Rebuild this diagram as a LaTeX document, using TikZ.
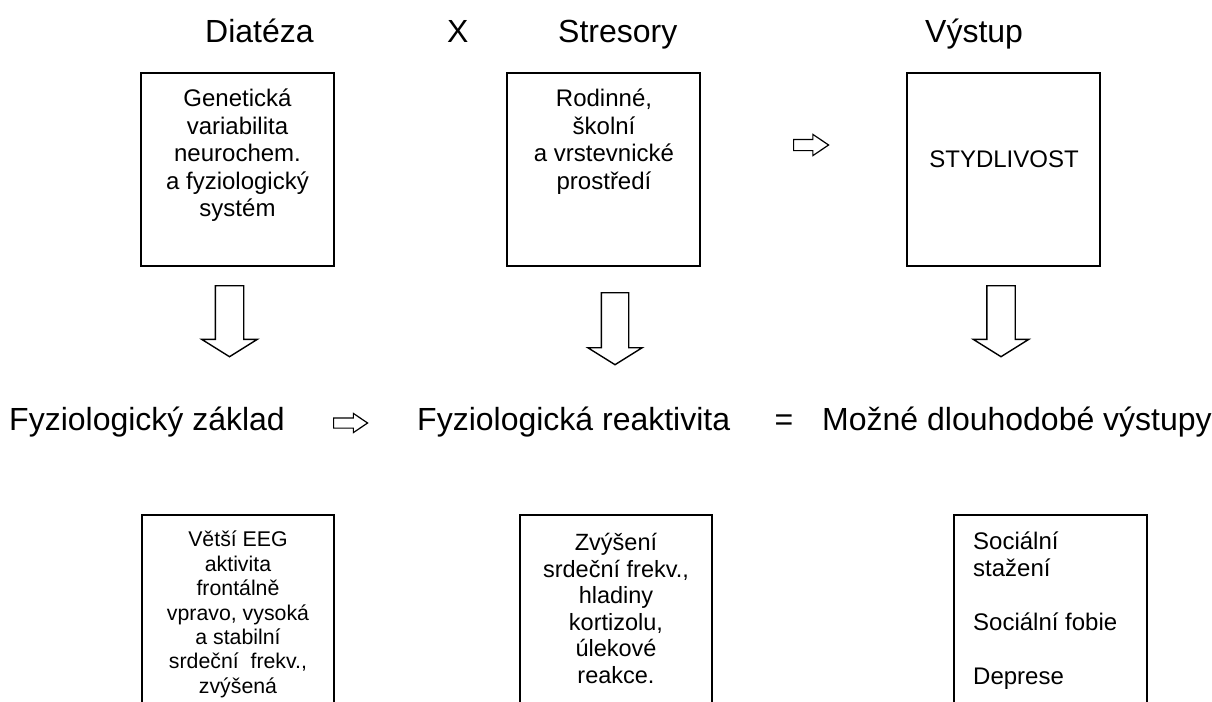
\documentclass[tikz,border=0pt]{standalone}
\usepackage{fontspec}
\setmainfont{Liberation Sans}
\usetikzlibrary{shapes.arrows}

\begin{document}
\begin{tikzpicture}[x=1pt,y=-1pt,
  bigtext/.style={font=\fontsize{32}{36}\selectfont,inner sep=0pt},
  stbox/.style={draw,line width=1.3pt,minimum width=193pt,minimum height=193pt,inner sep=0pt},
  boxtext/.style={font=\fontsize{24}{27.5}\selectfont,align=center,inner sep=0pt,anchor=north},
  downarr/.style={draw,line width=1.4pt,single arrow,rotate=-90,anchor=tail,inner xsep=0pt,inner ysep=13.5pt,
    minimum height=71pt,single arrow head extend=13.5pt,single arrow tip angle=116},
  rightarr/.style={draw,line width=1.2pt,single arrow,anchor=tail,inner xsep=0pt,inner ysep=5pt,
    minimum height=35pt,single arrow head extend=5pt,single arrow tip angle=68}]

  \useasboundingbox (0,0) rectangle (1212,701);
  \clip (0,0) rectangle (1212,701);

  % headings
  \node[bigtext,anchor=base west] (Di) at (205,43) {Diatéza};
  \node[bigtext,anchor=base west] (X) at (447,43) {X};
  \node[bigtext,anchor=base west] (St) at (558,43) {Stresory};
  \node[bigtext,anchor=base west] (Vy) at (925,43) {Výstup};

  % top boxes
  \node[stbox] (GeVa) at (237.5,169.5) {};
  \node[boxtext] (GeVaT) at (237.5,89) {Genetická\\variabilita\\neurochem.\\a fyziologický\\systém};
  \node[stbox] (RoPr) at (603.5,169.5) {};
  \node[boxtext] (RoPrT) at (604,89) {Rodinné,\\školní\\a vrstevnické\\prostředí};
  \node[rightarr] (RoAr) at (793,145) {};
  \node[stbox] (Styd) at (1003.5,169.5) {};
  \node[boxtext,anchor=base] (StydT) at (1004,167) {STYDLIVOST};

  % down arrows
  \node[downarr] (GeAr) at (229.5,285) {};
  \node[downarr,minimum height=72pt,inner ysep=13pt] (RoDn) at (615,292) {};
  \node[downarr] (StDn) at (1001,285) {};

  % middle row
  \node[bigtext,anchor=base west] (FyZa) at (9,430) {Fyziologický základ};
  \node[rightarr,minimum height=34pt,inner ysep=4.5pt,single arrow head extend=4.5pt] (FyAr) at (333,423) {};
  \node[bigtext,anchor=base west] (FyRe) at (417,430) {Fyziologická reaktivita};
  \node[bigtext,anchor=base] (Eq) at (784,430) {=};
  \node[bigtext,anchor=base west] (MoDl) at (822,430) {Možné dlouhodobé výstupy};

  % bottom boxes (cut by the page edge)
  \node[stbox,minimum width=192pt,minimum height=220pt] (VeEe) at (238,625) {};
  \node[boxtext,font=\fontsize{21.3}{24.4}\selectfont] (VeEeT) at (238,531)
    {Větší EEG\\aktivita\\frontálně\\vpravo, vysoká\\a stabilní\\srdeční\ \ frekv.,\\zvýšená};
  \node[stbox,minimum width=192pt,minimum height=220pt] (ZvSr) at (616,625) {};
  \node[boxtext,font=\fontsize{23.5}{26.5}\selectfont] (ZvSrT) at (616,533)
    {Zvýšení\\srdeční frekv.,\\hladiny\\kortizolu,\\úlekové\\reakce.};
  \node[stbox,minimum height=220pt] (SoSt) at (1050.5,625) {};
  \node[boxtext,align=left,anchor=north west,font=\fontsize{24}{27}\selectfont] (SoStT) at (973,532)
    {Sociální\\stažení\\[27pt]Sociální fobie\\[27pt]Deprese};

\end{tikzpicture}
\end{document}
